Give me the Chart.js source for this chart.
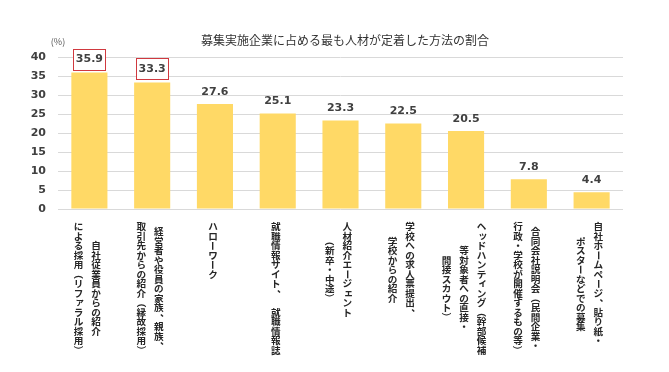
<!DOCTYPE html>
<html>
<head>
<meta charset="utf-8">
<script src="https://cdn.jsdelivr.net/npm/chart.js@4.4.1/dist/chart.umd.min.js"></script>
<style>
html,body{margin:0;padding:0;background:#fff;}
#wrap{width:669px;height:372px;position:relative;}
</style>
</head>
<body>
<div id="wrap"><canvas id="c" width="669" height="372"></canvas></div>
<script>
const chartTitle = "募集実施企業に占める最も人材が定着した方法の割合";
const unitLabel = "(%)";
const categories = [
  ["自社従業員からの紹介", "による採用（リファラル採用）"],
  ["経営者や役員の家族、親族、", "取引先からの紹介（縁故採用）"],
  ["ハローワーク"],
  ["就職情報サイト、　就職情報誌"],
  ["人材紹介エージェント", "（新卒・中途）"],
  ["学校への求人票提出、", "学校からの紹介"],
  ["ヘッドハンティング（幹部候補", "等対象者への直接・", "間接スカウト）"],
  ["合同会社説明会（民間企業・", "行政・学校が開催するもの等）"],
  ["自社ホームページ、貼り紙・", "ポスターなどでの募集"]
];
const values = [35.9, 33.3, 27.6, 25.1, 23.3, 22.5, 20.5, 7.8, 4.4];
const highlighted = [0, 1];
const yTicks = [0, 5, 10, 15, 20, 25, 30, 35, 40];

const BAR_COLOR = "#FFD966";
const TEXT_COLOR = "#404040";
const JP_FONT = '"Noto Sans CJK JP", "Noto Sans", sans-serif';
const NUM_FONT = '"DejaVu Sans", Verdana, sans-serif';

const rotateChars = new Set(["ー", "（", "）", "～", "〜", "－"]);
const smallKana = new Set(["ッ","ィ","ャ","ュ","ョ","ァ","ゥ","ェ","ォ","っ","ゃ","ゅ","ょ","ぁ","ぃ","ぅ","ぇ","ぉ"]);
const commaChars = new Set(["、","。"]);

const verticalLabels = {
  id: "verticalLabels",
  afterDraw(chart) {
    const ctx = chart.ctx;
    const xs = chart.scales.x;
    const pitch = 9.5, colGap = 17.5, topY = 222;
    ctx.save();
    ctx.fillStyle = "#262626";
    ctx.font = "bold 9.6px " + JP_FONT;
    ctx.textAlign = "center";
    ctx.textBaseline = "middle";
    chart.data.labels.forEach((cols, i) => {
      const cx = xs.getPixelForValue(i) - 2;
      const maxLen = Math.max(...cols.map(c => [...c].length));
      const blockCenterY = topY + maxLen * pitch / 2;
      const n = cols.length;
      cols.forEach((col, j) => {
        const x = cx + ((n - 1) / 2 - j) * colGap;
        const chars = [...col];
        let y = blockCenterY - chars.length * pitch / 2 + pitch / 2;
        chars.forEach(ch => {
          if (rotateChars.has(ch)) {
            ctx.save();
            ctx.translate(x, y);
            ctx.rotate(Math.PI / 2);
            ctx.fillText(ch, 0, 0);
            ctx.restore();
          } else if (smallKana.has(ch)) {
            ctx.fillText(ch, x + 1.2, y - 1.2);
          } else if (commaChars.has(ch)) {
            ctx.fillText(ch, x + 6, y - 5);
          } else {
            ctx.fillText(ch, x, y);
          }
          y += pitch;
        });
      });
    });
    ctx.restore();
  }
};

const valueLabels = {
  id: "valueLabels",
  afterDatasetsDraw(chart) {
    const ctx = chart.ctx;
    const meta = chart.getDatasetMeta(0);
    ctx.save();
    ctx.font = "bold 11px " + NUM_FONT;
    ctx.textAlign = "center";
    ctx.textBaseline = "middle";
    meta.data.forEach((bar, i) => {
      const v = chart.data.datasets[0].data[i];
      const x = bar.x;
      const y = bar.y - (highlighted.includes(i) ? 13.5 : 12.5);
      if (highlighted.includes(i)) {
        ctx.fillStyle = "#ffffff";
        ctx.fillRect(x - 16, y - 10.5, 32, 21);
        ctx.strokeStyle = "#D0393F";
        ctx.lineWidth = 1;
        ctx.strokeRect(Math.round(x - 16) + 0.5, Math.round(y - 10.5) + 0.5, 32, 21);
      }
      ctx.fillStyle = TEXT_COLOR;
      ctx.fillText(v.toFixed(1), x, y + 0.5);
    });
    ctx.restore();
  }
};

const titles = {
  id: "titles",
  afterDraw(chart) {
    const ctx = chart.ctx;
    ctx.save();
    ctx.fillStyle = "#333333";
    ctx.textAlign = "center";
    ctx.textBaseline = "middle";
    ctx.font = "12px " + JP_FONT;
    ctx.fillText(chartTitle, 345, 40);
    ctx.fillStyle = "#595959";
    ctx.font = "9px " + JP_FONT;
    ctx.fillText(unitLabel, 58, 42);
    ctx.restore();
  }
};

new Chart(document.getElementById("c"), {
  type: "bar",
  data: {
    labels: categories,
    datasets: [{
      data: values,
      backgroundColor: BAR_COLOR,
      borderWidth: 0,
      barPercentage: 0.575,
      categoryPercentage: 1.0
    }]
  },
  options: {
    responsive: false,
    animation: false,
    devicePixelRatio: 1,
    layout: { padding: { top: 57, bottom: 163, left: 0, right: 46 } },
    plugins: { legend: { display: false }, tooltip: { enabled: false }, title: { display: false } },
    scales: {
      x: { display: false },
      y: {
        min: 0, max: 40,
        afterFit(scale) { scale.width = 58; },
        afterBuildTicks(scale) { scale.ticks = yTicks.map(v => ({ value: v })); },
        ticks: { padding: 12, color: TEXT_COLOR, font: { family: NUM_FONT, size: 11, weight: "bold" } },
        grid: { color: "#D9D9D9", lineWidth: 1, drawTicks: false },
        border: { display: false }
      }
    }
  },
  plugins: [verticalLabels, valueLabels, titles]
});
</script>
</body>
</html>
